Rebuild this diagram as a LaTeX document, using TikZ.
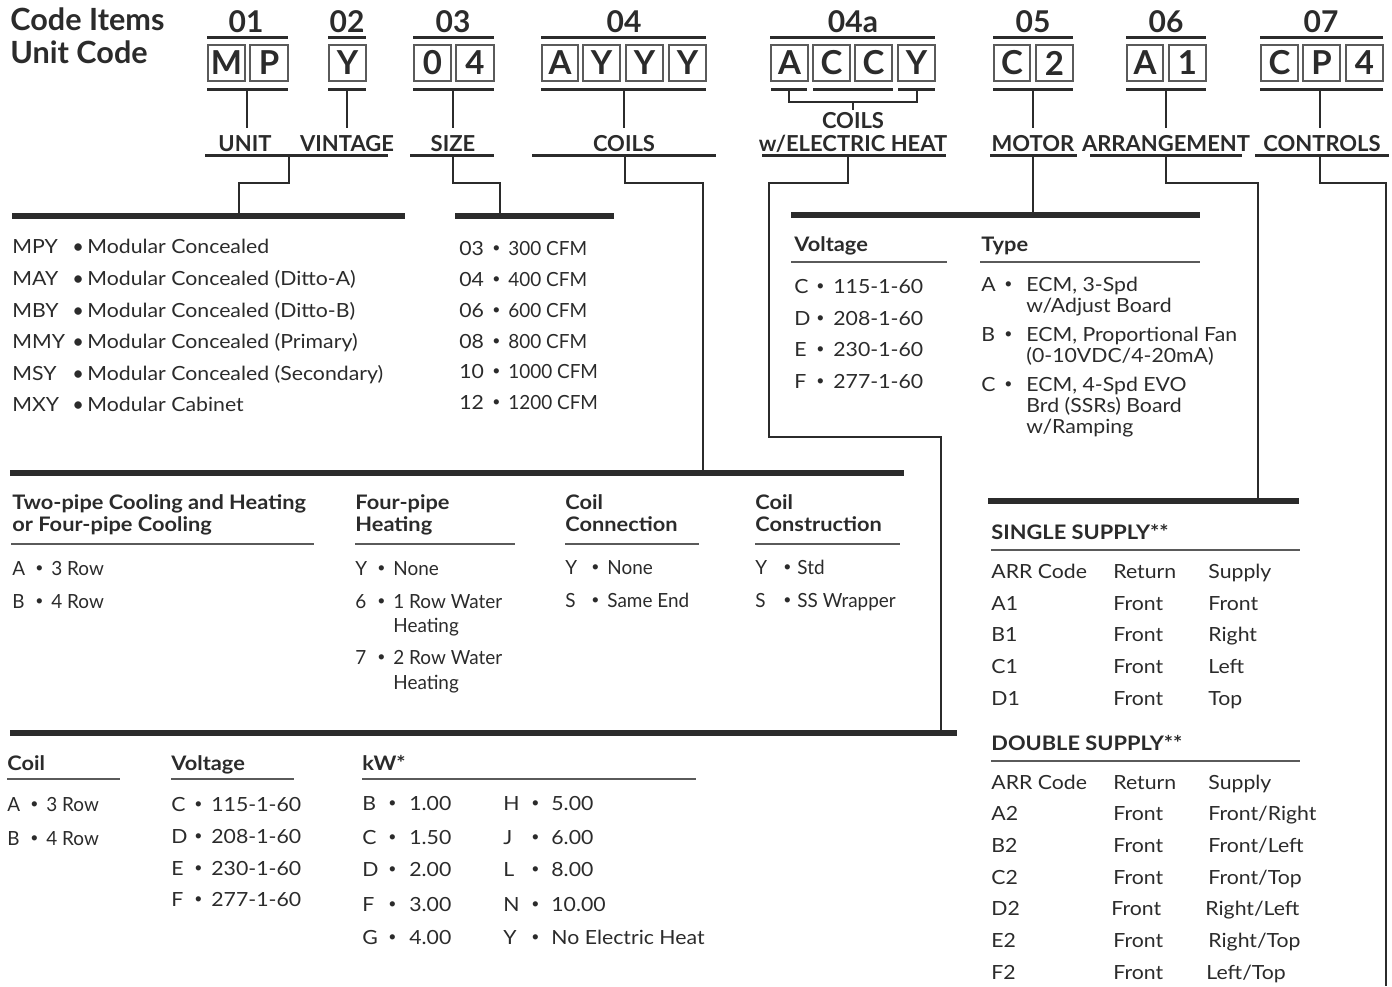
\documentclass[tikz,border=0pt]{standalone}
\usepackage{fontspec}
\setmainfont{Lato}
\newfontfamily\condfont{Lato}[FakeStretch=0.97]
\newfontfamily\wfont{Lato}[FakeStretch=1.09]
\definecolor{ink}{HTML}{2B2B2B}
\definecolor{rulec}{HTML}{5A5A5A}
\newcommand\lbx[4]{\node[lbox, minimum width={((#3)-(#2))*0.5pt}] (#4) at ({((#2)+(#3))/2},63) {#1};}
\tikzset{
 txt/.style={anchor=base west, inner sep=0pt, text=ink, font=\wfont\fontsize{9.75}{11}\selectfont},
 ctxt/.style={anchor=base west, inner sep=0pt, text=ink, font=\condfont\fontsize{9.75}{11}\selectfont},
 bul/.style={anchor=base west, inner sep=0pt, text=ink, font=\fontsize{7}{8}\selectfont, yshift=1.3pt},
 bigbul/.style={anchor=base west, inner sep=0pt, text=ink, font=\fontsize{10}{10}\selectfont, yshift=-0.2pt},
 hdr/.style={anchor=base west, inner sep=0pt, text=ink, font=\wfont\bfseries\fontsize{10}{12}\selectfont},
 big/.style={anchor=base west, inner sep=0pt, text=ink, font=\bfseries\fontsize{15.3}{18}\selectfont},
 num/.style={anchor=base, inner sep=0pt, text=ink, font=\bfseries\fontsize{15}{18}\selectfont},
 lbl/.style={anchor=base, inner sep=0pt, text=ink, font=\bfseries\fontsize{11}{13}\selectfont},
 lbox/.style={draw=rulec, line width=0.7pt, inner sep=0pt, minimum height=18pt, text=ink, font=\bfseries\fontsize{16.5}{18}\selectfont},
 hline/.style={draw=ink, line width=1.5pt},
 conn/.style={draw=ink, line width=1.25pt},
 thickbar/.style={draw=ink, line width=3pt},
 srule/.style={draw=rulec, line width=0.7pt},
}
\begin{document}
\begin{tikzpicture}[x=0.5pt,y=-0.5pt]
\useasboundingbox[fill=white] (0,0) rectangle (1392,986);

% ---------- title
\node[big] (t1) at (10,30) {Code Items};
\node[big] (t2) at (10,63) {Unit Code};

% ---------- numbers
\foreach \n/\x [count=\i] in {01/246,02/347,03/453,04/624,04a/853,05/1033,06/1166,07/1321}
  \node[num] (n\i) at (\x,32) {\n};

% ---------- top and bottom lines of box groups
\foreach \a/\b in {207/288,328/366,413/494,541/706,770/935,993/1073,1126/1206,1260/1383}
  \draw[hline] (\a,37) -- (\b,37);
\foreach \a/\b in {207/288,328/366,413/494,541/706,771/807,813/893,898/935,993/1073,1126/1206,1260/1383}
  \draw[hline] (\a,89) -- (\b,89);

% ---------- letter boxes
\lbx{M}{208}{245}{b1}\lbx{P}{250}{288}{b2}
\lbx{Y}{329}{366}{b3}
\lbx{0}{414}{451}{b4}\lbx{4}{456}{494}{b5}
\lbx{A}{542}{578}{b6}\lbx{Y}{583}{620}{b7}\lbx{Y}{626}{663}{b8}\lbx{Y}{669}{706}{b9}
\lbx{A}{771}{808}{b10}\lbx{C}{813}{850}{b11}\lbx{C}{855}{892}{b12}\lbx{Y}{898}{935}{b13}
\lbx{C}{994}{1030}{b14}\lbx{2}{1036}{1073}{b15}
\lbx{A}{1127}{1163}{b16}\lbx{1}{1169}{1206}{b17}
\lbx{C}{1261}{1298}{b18}\lbx{P}{1303}{1340}{b19}\lbx{4}{1346}{1383}{b20}

% ---------- labels
\node[lbl] (lunit) at (245,151) {UNIT};
\node[lbl] (lvint) at (347,151) {VINTAGE};
\node[lbl] (lsize) at (453,151) {SIZE};
\node[lbl] (lcoil) at (624,151) {COILS};
\node[lbl] (lceh1) at (853,128) {COILS};
\node[lbl] (lceh2) at (853,151) {w/ELECTRIC HEAT};
\node[lbl] (lmot) at (1033,151) {MOTOR};
\node[lbl] (larr) at (1166,151) {ARRANGEMENT};
\node[lbl] (lctl) at (1322,151) {CONTROLS};

% verticals from boxes to labels
\foreach \x in {247,347,453,624,1033,1166,1320}
  \draw[conn] (\x,89) -- (\x,128);
% 04a bracket
\draw[conn] (789,89) -- (789,102) -- (917,102) -- (917,89);
\draw[conn] (853,102) -- (853,110);

% label underlines
\foreach \a/\b in {205/388,410/494,532/716,762/946,990/1077,1090/1242,1255/1389}
  \draw[hline] (\a,155) -- (\b,155);

% ---------- connector start points
\coordinate (cU) at (289,155);
\coordinate (cS) at (453,155);
\coordinate (cC) at (625,155);
\coordinate (cE) at (848,155);
\coordinate (cM) at (1033,155);
\coordinate (cA) at (1166,155);
\coordinate (cT) at (1320,155);
% connector end points on bars
\coordinate (eU) at (239,216);
\coordinate (eS) at (500,216);
\coordinate (eC) at (703,473);
\coordinate (eE) at (941,733);
\coordinate (eM) at (1033,216);
\coordinate (eA) at (1258,501);
\coordinate (eT) at (1386,986);

\draw[conn] (cU) -- ++(0,28) -| (eU);
\draw[conn] (cS) -- ++(0,28) -| (eS);
\draw[conn] (cC) -- ++(0,28) -| (eC);
\draw[conn] (cE) -- ++(0,28) -- (769,183) -- (769,437) -| (eE);
\draw[conn] (cM) -- (eM);
\draw[conn] (cA) -- ++(0,28) -| (eA);
\draw[conn] (cT) -- ++(0,28) -| (eT);

% thick bars
\draw[thickbar] (12,216) -- (405,216);
\draw[thickbar] (455,216) -- (614,216);
\draw[thickbar] (791,215) -- (1200,215);
\draw[thickbar] (10,473) -- (904,473);
\draw[thickbar] (988,501) -- (1299,501);
\draw[thickbar] (10,733) -- (957,733);

% ---------- UNIT list
\foreach \c/\d/\y [count=\i] in {MPY/Modular Concealed/253,MAY/Modular Concealed (Ditto-A)/285,MBY/Modular Concealed (Ditto-B)/317,MMY/Modular Concealed (Primary)/348,MSY/Modular Concealed (Secondary)/380,MXY/Modular Cabinet/411}{
  \node[txt] (uc\i) at (12,\y) {\c};
  \node[bigbul] (ub\i) at (72,\y) {•};
  \node[txt] (ud\i) at (87,\y) {\d};
}
% ---------- SIZE list
\foreach \c/\d/\y [count=\i] in {03/300 CFM/255,04/400 CFM/286,06/600 CFM/317,08/800 CFM/348,10/1000 CFM/378,12/1200 CFM/409}{
  \node[txt] (sc\i) at (459,\y) {\c};
  \node[bul] (sb\i) at (492,\y) {•};
  \node[ctxt] (sd\i) at (508,\y) {\d};
}

% ---------- MOTOR section
\node[hdr] (mvh) at (794,251) {Voltage};
\draw[srule] (791,262) -- (947,262);
\foreach \c/\d/\y [count=\i] in {C/115-1-60/293,D/208-1-60/325,E/230-1-60/356,F/277-1-60/388}{
  \node[txt] (mvc\i) at (794,\y) {\c};
  \node[bul] (mvb\i) at (816,\y) {•};
  \node[txt] (mvd\i) at (833,\y) {\d};
}
\node[hdr] (mth) at (981,251) {Type};
\draw[srule] (980,262) -- (1200,262);
\foreach \c/\y [count=\i] in {A/291,B/341,C/391}{
  \node[txt] (mtc\i) at (981,\y) {\c};
  \node[bul] (mtb\i) at (1004,\y) {•};
}
\node[txt] (mt1a) at (1026,291) {ECM, 3-Spd};
\node[txt] (mt1b) at (1026,312) {w/Adjust Board};
\node[txt] (mt2a) at (1026,341) {ECM, Proportional Fan};
\node[txt] (mt2b) at (1026,362) {(0-10VDC/4-20mA)};
\node[txt] (mt3a) at (1026,391) {ECM, 4-Spd EVO};
\node[txt] (mt3b) at (1026,412) {Brd (SSRs) Board};
\node[txt] (mt3c) at (1026,433) {w/Ramping};

% ---------- COILS section
\node[hdr] (ch1a) at (12,509) {Two-pipe Cooling and Heating};
\node[hdr] (ch1b) at (12,531) {or Four-pipe Cooling};
\draw[srule] (11,544) -- (314,544);
\node[hdr] (ch2a) at (355,509) {Four-pipe};
\node[hdr] (ch2b) at (355,531) {Heating};
\draw[srule] (355,544) -- (515,544);
\node[hdr] (ch3a) at (565,509) {Coil};
\node[hdr] (ch3b) at (565,531) {Connection};
\draw[srule] (565,544) -- (699,544);
\node[hdr] (ch4a) at (755,509) {Coil};
\node[hdr] (ch4b) at (755,531) {Construction};
\draw[srule] (755,544) -- (900,544);

\node[ctxt] (c1c1) at (12,575) {A};  \node[bul] (c1b1) at (35,575) {•}; \node[ctxt] (c1d1) at (51,575) {3 Row};
\node[ctxt] (c1c2) at (12,608) {B};  \node[bul] (c1b2) at (35,608) {•}; \node[ctxt] (c1d2) at (51,608) {4 Row};

\node[ctxt] (c2c1) at (355,575) {Y}; \node[bul] (c2b1) at (377,575) {•}; \node[ctxt] (c2d1) at (393,575) {None};
\node[ctxt] (c2c2) at (355,608) {6}; \node[bul] (c2b2) at (377,608) {•}; \node[ctxt] (c2d2) at (393,608) {1 Row Water};
\node[ctxt] (c2e2) at (393,632) {Heating};
\node[ctxt] (c2c3) at (355,664) {7}; \node[bul] (c2b3) at (377,664) {•}; \node[ctxt] (c2d3) at (393,664) {2 Row Water};
\node[ctxt] (c2e3) at (393,689) {Heating};

\node[ctxt] (c3c1) at (565,574) {Y}; \node[bul] (c3b1) at (591,574) {•}; \node[ctxt] (c3d1) at (607,574) {None};
\node[ctxt] (c3c2) at (565,607) {S}; \node[bul] (c3b2) at (591,607) {•}; \node[ctxt] (c3d2) at (607,607) {Same End};

\node[ctxt] (c4c1) at (755,574) {Y}; \node[bul] (c4b1) at (783,574) {•}; \node[ctxt] (c4d1) at (797,574) {Std};
\node[ctxt] (c4c2) at (755,607) {S}; \node[bul] (c4b2) at (783,607) {•}; \node[ctxt] (c4d2) at (797,607) {SS Wrapper};

% ---------- COILS w/ELECTRIC HEAT section
\node[hdr] (eh1) at (7,770) {Coil};
\draw[srule] (7,779) -- (120,779);
\node[hdr] (eh2) at (171,770) {Voltage};
\draw[srule] (171,779) -- (294,779);
\node[hdr] (eh3) at (362,770) {kW*};
\draw[srule] (362,779) -- (696,779);

\node[ctxt] (e1c1) at (7,811) {A}; \node[bul] (e1b1) at (30,811) {•}; \node[ctxt] (e1d1) at (46,811) {3 Row};
\node[ctxt] (e1c2) at (7,845) {B}; \node[bul] (e1b2) at (30,845) {•}; \node[ctxt] (e1d2) at (46,845) {4 Row};

\foreach \c/\d/\y [count=\i] in {C/115-1-60/811,D/208-1-60/843,E/230-1-60/875,F/277-1-60/906}{
  \node[txt] (e2c\i) at (171,\y) {\c};
  \node[bul] (e2b\i) at (194,\y) {•};
  \node[txt] (e2d\i) at (211,\y) {\d};
}
\foreach \c/\d/\y [count=\i] in {B/1.00/810,C/1.50/844,D/2.00/876,F/3.00/911,G/4.00/944}{
  \node[txt] (e3c\i) at (362,\y) {\c};
  \node[bul] (e3b\i) at (388,\y) {•};
  \node[txt] (e3d\i) at (409,\y) {\d};
}
\foreach \c/\d/\y [count=\i] in {H/5.00/810,J/6.00/844,L/8.00/876,N/10.00/911,Y/No Electric Heat/944}{
  \node[txt] (e4c\i) at (503,\y) {\c};
  \node[bul] (e4b\i) at (531,\y) {•};
  \node[txt] (e4d\i) at (551,\y) {\d};
}

% ---------- ARRANGEMENT section
\node[hdr] (ash) at (991,539) {SINGLE SUPPLY**};
\draw[srule] (991,550) -- (1300,550);
\foreach \a/\b/\c/\y [count=\i] in {ARR Code/Return/Supply/578,A1/Front/Front/610,B1/Front/Right/641,C1/Front/Left/673,D1/Front/Top/705}{
  \node[txt] (sa\i) at (991,\y) {\a};
  \node[txt] (sr\i) at (1113,\y) {\b};
  \node[txt] (ss\i) at (1208,\y) {\c};
}
\node[hdr] (adh) at (991,750) {DOUBLE SUPPLY**};
\draw[srule] (991,761) -- (1300,761);
\foreach \a/\y [count=\i] in {ARR Code/789,A2/820,B2/852,C2/884,D2/915,E2/947,F2/979}{
  \node[txt] (da\i) at (991,\y) {\a};
}
\node[txt] (dr1) at (1113,789) {Return};   \node[txt] (ds1) at (1208,789) {Supply};
\node[txt] (dr2) at (1113,820) {Front};    \node[txt] (ds2) at (1208,820) {Front/Right};
\node[txt] (dr3) at (1113,852) {Front};    \node[txt] (ds3) at (1208,852) {Front/Left};
\node[txt] (dr4) at (1113,884) {Front};    \node[txt] (ds4) at (1208,884) {Front/Top};
\node[txt] (dr5) at (1111,915) {Front};    \node[txt] (ds5) at (1205,915) {Right/Left};
\node[txt] (dr6) at (1113,947) {Front};    \node[txt] (ds6) at (1208,947) {Right/Top};
\node[txt] (dr7) at (1113,979) {Front};    \node[txt] (ds7) at (1206,979) {Left/Top};
\end{tikzpicture}
\end{document}
